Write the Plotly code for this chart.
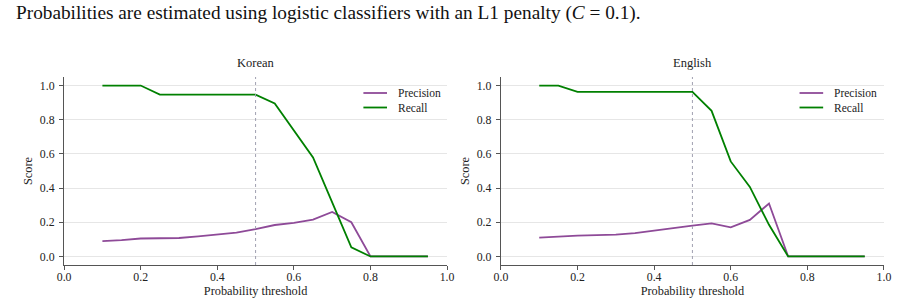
import plotly.graph_objects as go

thresholds = [0.10, 0.15, 0.20, 0.25, 0.30, 0.35, 0.40, 0.45, 0.50,
              0.55, 0.60, 0.65, 0.70, 0.75, 0.80, 0.85, 0.90, 0.95]

korean_precision = [0.090, 0.095, 0.105, 0.105, 0.108, 0.117, 0.128, 0.140, 0.160,
                    0.184, 0.197, 0.215, 0.260, 0.200, 0.0, 0.0, 0.0, 0.0]
korean_recall = [1.0, 1.0, 1.0, 0.947, 0.947, 0.947, 0.947, 0.947, 0.947,
                 0.895, 0.737, 0.579, 0.316, 0.053, 0.0, 0.0, 0.0, 0.0]

english_precision = [0.110, 0.118, 0.122, 0.125, 0.128, 0.137, 0.150, 0.165, 0.180,
                     0.194, 0.170, 0.214, 0.310, 0.0, 0.0, 0.0, 0.0, 0.0]
english_recall = [1.0, 1.0, 0.963, 0.963, 0.963, 0.963, 0.963, 0.963, 0.963,
                  0.852, 0.556, 0.407, 0.185, 0.0, 0.0, 0.0, 0.0, 0.0]

panel_titles = ["Korean", "English"]
series_names = ["Precision", "Recall"]
x_ticks = [0.0, 0.2, 0.4, 0.6, 0.8, 1.0]
y_ticks = [0.0, 0.2, 0.4, 0.6, 0.8, 1.0]
tick_text = ["0.0", "0.2", "0.4", "0.6", "0.8", "1.0"]
decision_threshold = 0.5
caption = "Probabilities are estimated using logistic classifiers with an L1 penalty (<i>C</i> = 0.1)."

PREC_COLOR = "#8e4a98"
REC_COLOR = "#008000"
COLORS = [PREC_COLOR, REC_COLOR]
FONT = "Liberation Serif, Times New Roman, Nimbus Roman, DejaVu Serif, serif"
TXT = "#222222"
W, H = 904, 303

fig = go.Figure()

panels = [
    (korean_precision, korean_recall, "x", "y"),
    (english_precision, english_recall, "x2", "y2"),
]
for prec, rec, xa, ya in panels:
    for name, vals, col in zip(series_names, [prec, rec], COLORS):
        fig.add_trace(go.Scatter(x=thresholds, y=vals, mode="lines", name=name,
                                 line=dict(color=col, width=1.8),
                                 xaxis=xa, yaxis=ya, showlegend=False))

x_domains = [[58 / W, 447 / W], [501.7 / W, 890.7 / W]]
y_domain = [(H - 265) / H, (H - 77) / H]

axis_common = dict(
    showline=True, linecolor="#555555", linewidth=1.3,
    ticks="outside", ticklen=4, tickwidth=1, tickcolor="#555555",
    tickfont=dict(family=FONT, size=11.8, color=TXT),
    zeroline=False,
)

legend_pos = [(362, 386, 395), (805, 829, 838)]
legend_rows = [93, 107.5]

for i, dom in enumerate(x_domains):
    sfx = "" if i == 0 else str(i + 1)
    fig.update_layout(**{
        "xaxis" + sfx: dict(domain=dom, range=[0, 1], tickvals=x_ticks, ticktext=tick_text,
                            showgrid=False, anchor="y" + sfx, ticklabelstandoff=-3,
                            title=dict(text="Probability threshold", standoff=0,
                                       font=dict(family=FONT, size=12.3, color=TXT)),
                            **axis_common),
        "yaxis" + sfx: dict(domain=y_domain, range=[-0.05, 1.05], tickvals=y_ticks,
                            ticktext=tick_text, anchor="x" + sfx, ticklabelstandoff=2,
                            showgrid=True, gridcolor="#e6e6e6", gridwidth=1,
                            title=dict(text="Score", standoff=4,
                                       font=dict(family=FONT, size=12.3, color=TXT)),
                            **axis_common),
    })
    fig.add_shape(type="line", xref="x" + sfx, yref="y" + sfx + " domain",
                  x0=decision_threshold, x1=decision_threshold, y0=0, y1=1,
                  line=dict(color="#a0a0b0", width=1, dash="dot"))
    fig.add_annotation(text=panel_titles[i], xref="paper", yref="paper",
                       x=(dom[0] + dom[1]) / 2, y=(H - 63) / H,
                       xanchor="center", yanchor="middle", showarrow=False,
                       font=dict(family=FONT, size=12.5, color=TXT))
    # legend drawn as small line samples + labels
    lx0, lx1, tx = legend_pos[i]
    for name, col, ry in zip(series_names, COLORS, legend_rows):
        fig.add_shape(type="line", xref="paper", yref="paper",
                      x0=lx0 / W, x1=lx1 / W, y0=(H - ry) / H, y1=(H - ry) / H,
                      line=dict(color=col, width=1.8))
        fig.add_annotation(text=name, xref="paper", yref="paper",
                           x=tx / W, y=(H - ry) / H, xanchor="left", yanchor="middle",
                           showarrow=False, font=dict(family=FONT, size=11.5, color=TXT))

fig.add_annotation(text=caption, xref="paper", yref="paper", x=7 / W, y=(H - 13) / H,
                   xanchor="left", yanchor="middle", showarrow=False,
                   font=dict(family=FONT, size=19.3, color="#111111"))

fig.update_layout(
    width=W, height=H, margin=dict(l=0, r=0, t=0, b=0),
    font=dict(family=FONT, color=TXT),
    paper_bgcolor="white", plot_bgcolor="white", showlegend=False,
)

fig.write_html("out.html")
